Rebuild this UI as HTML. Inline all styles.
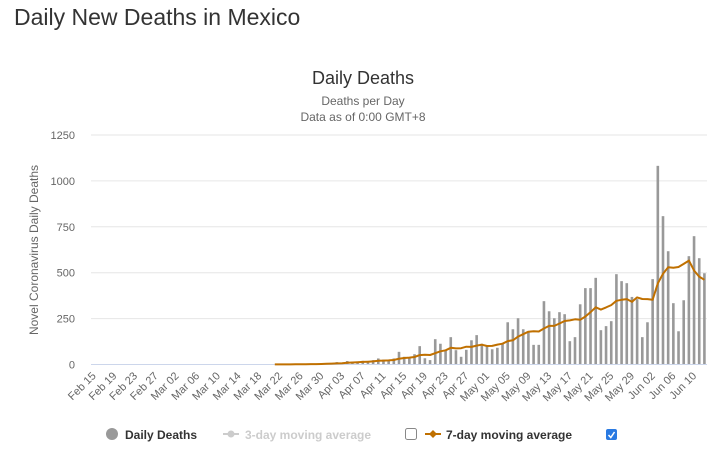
<!DOCTYPE html>
<html><head><meta charset="utf-8">
<style>
body{margin:0;width:718px;height:454px;background:#fff;overflow:hidden;font-family:"Liberation Sans",sans-serif;}
h1{position:absolute;left:14px;top:4px;margin:0;font-size:23px;font-weight:normal;color:#333;}
svg{position:absolute;left:0;top:0;}
</style></head><body>
<h1>Daily New Deaths in Mexico</h1>
<svg id="chart" width="718" height="454" font-family="Liberation Sans, DejaVu Sans, sans-serif"></svg>
<script>
const startDate = [2020, 1, 15];
const dayCount = 119;
const yTicks = [0, 250, 500, 750, 1000, 1250];
const deathsStartIndex = 33;
const deaths = [1,0,1,0,2,1,1,4,4,4,1,4,8,8,13,10,19,15,15,20,16,24,
33,27,20,33,69,42,38,56,100,34,24,138,113,78,149,78,42,80,132,160,113,100,83,91,114,230,192,252,192,178,107,107,345,290,252,285,274,127,149,328,416,416,472,187,209,236,492,454,443,368,356,149,230,465,1082,808,617,334,181,350,590,699,579,497];

const NS='http://www.w3.org/2000/svg';
const svg=document.getElementById('chart');
const X0=91,X1=707,Y0=364.5,Y1=135,YMAX=1250;
const bw=(X1-X0)/dayCount;
const xC=i=>X0+(i+0.5)*bw;
const yS=v=>Y0-(v/YMAX)*(Y0-Y1);
function mk(t,a,txt){const e=document.createElementNS(NS,t);for(const k in a)e.setAttribute(k,a[k]);if(txt!==undefined)e.textContent=txt;svg.appendChild(e);return e;}
const mon=['Jan','Feb','Mar','Apr','May','Jun','Jul'];
function lab(i){const d=new Date(startDate[0],startDate[1],startDate[2]+i);return mon[d.getMonth()]+' '+String(d.getDate()).padStart(2,'0');}

let t;
t=mk('text',{x:363,y:84,'text-anchor':'middle','font-size':18,fill:'#333'},'Daily Deaths');

t=mk('text',{x:363,y:105,'text-anchor':'middle','font-size':12,fill:'#666'},'Deaths per Day');

t=mk('text',{x:363,y:121,'text-anchor':'middle','font-size':12,fill:'#666'},'Data as of 0:00 GMT+8');


yTicks.forEach(v=>{
  const y=yS(v);
  if(v>0){const g=mk('line',{x1:X0,x2:X1,y1:y,y2:y,stroke:'#e6e6e6'});}
  const l=mk('text',{x:75,y:y+4,'text-anchor':'end','font-size':11,fill:'#666'},String(v));
  
});
t=mk('text',{x:0,y:0,transform:'translate(38,250) rotate(-90)','text-anchor':'middle','font-size':12,fill:'#666'},'Novel Coronavirus Daily Deaths');


deaths.forEach((v,k)=>{
  const i=deathsStartIndex+k;
  const r=mk('rect',{x:xC(i)-1.3,y:yS(v),width:2.6,height:Y0-yS(v),fill:'#999'});
  
});
const ax=mk('line',{x1:X0,x2:X1,y1:Y0,y2:Y0,stroke:'#ccd6eb'});


for(let i=0;i<dayCount;i+=4){
  const x=xC(i)+3,y=Y0+12;
  const l=mk('text',{x:x,y:y,transform:`rotate(-45 ${x} ${y})`,'text-anchor':'end','font-size':11,fill:'#666'},lab(i));
  
}

const pts=[];
for(let k=2;k<deaths.length;k++){
  let s=0;for(let j=k-6;j<=k;j++)s+=(j>=0?deaths[j]:0);
  pts.push(xC(deathsStartIndex+k).toFixed(1)+','+yS(s/7).toFixed(1));
}
const pl=mk('polyline',{points:pts.join(' '),fill:'none',stroke:'#c07000','stroke-width':2,'stroke-linejoin':'round'});


// legend
const LY=435;
let e;
e=mk('circle',{cx:112,cy:LY-1,r:6,fill:'#999'});
e=mk('text',{x:125,y:LY+4,'font-size':12,'font-weight':'bold',fill:'#333'},'Daily Deaths');
e=mk('line',{x1:223,x2:239,y1:LY-1,y2:LY-1,stroke:'#ccc','stroke-width':2});
e=mk('circle',{cx:231,cy:LY-1,r:3.5,fill:'#ccc'});
e=mk('text',{x:245,y:LY+4,'font-size':12,'font-weight':'bold',fill:'#ccc'},'3-day moving average');
e=mk('rect',{x:405.5,y:LY-6.5,width:11,height:11,rx:2,fill:'#fff',stroke:'#888'});
e=mk('line',{x1:425,x2:441,y1:LY-1,y2:LY-1,stroke:'#c07000','stroke-width':2});
e=mk('path',{d:`M433 ${LY-5} L437 ${LY-1} L433 ${LY+3} L429 ${LY-1}Z`,fill:'#c07000'});
e=mk('text',{x:446,y:LY+4,'font-size':12,'font-weight':'bold',fill:'#333'},'7-day moving average');
e=mk('rect',{x:606,y:LY-6,width:11,height:11,rx:2,fill:'#2a7ae2'});
e=mk('path',{d:`M608.5 ${LY} L610.8 ${LY+2.5} L614.5 ${LY-3}`,fill:'none',stroke:'#fff','stroke-width':1.5});
</script>
</body></html>
